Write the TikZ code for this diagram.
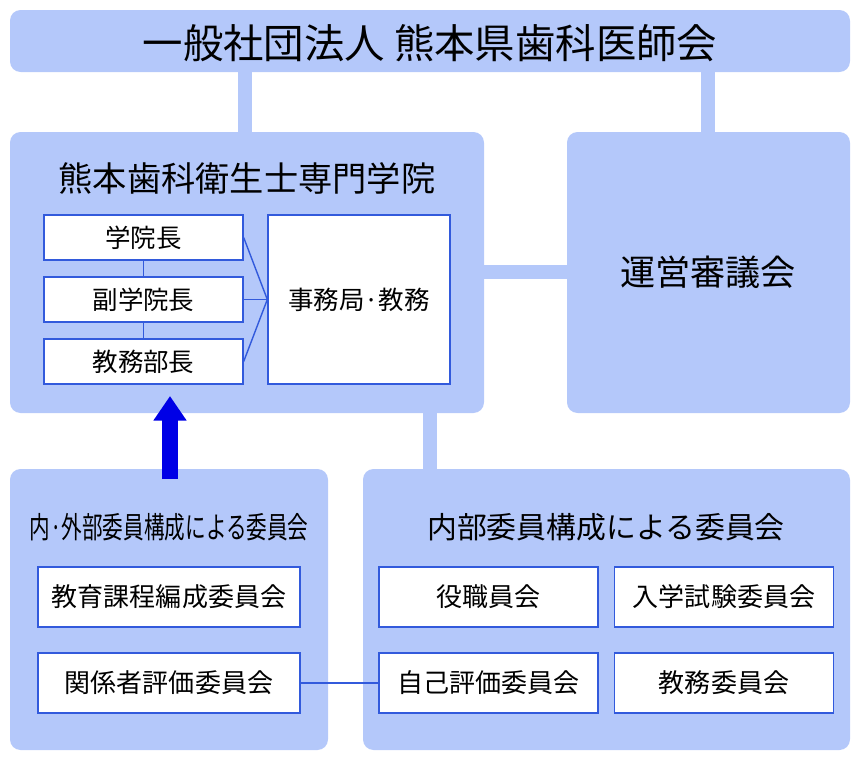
\documentclass[tikz,border=0pt]{standalone}
\usepackage{fontspec}
\setmainfont{Noto Sans CJK JP}
\usepackage{tikz}
\usetikzlibrary{arrows.meta}
\definecolor{panel}{RGB}{180,200,250}
\definecolor{edge}{RGB}{50,90,220}
\tikzset{
  panel/.style={fill=panel, rounded corners=6pt, inner sep=0pt},
  item/.style={draw=edge, fill=white, line width=0.8pt, inner sep=0pt, font=\fontsize{14.5}{16}\selectfont},
  link/.style={panel, line width=8pt},
  thin/.style={draw=edge, line width=0.8pt}
}
\begin{document}
\begin{tikzpicture}[x=0.02cm, y=-0.02cm]
\useasboundingbox (0,0) rectangle (860,762);
% connectors behind panels
\draw[link, draw=panel] (245,72) -- (245,132);
\draw[link, draw=panel] (708,72) -- (708,132);
\draw[link, draw=panel] (484,272) -- (567,272);
\draw[link, draw=panel] (430,413) -- (430,469);
% panels
\fill[panel] (10,10) rectangle (850,72);
\node (top) at (430,43) {\fontsize{23}{25}\selectfont 一般社団法人\ 熊本県歯科医師会};
\fill[panel] (10,132) rectangle (484,413);
\node (school) at (247,178) {\fontsize{19.5}{21}\selectfont 熊本歯科衛生士専門学院};
\fill[panel] (567,132) rectangle (850,413);
\node (council) at (708,272) {\fontsize{20}{22}\selectfont 運営審議会};
\fill[panel] (10,469) rectangle (328,750);
\node[xscale=0.69] (mixed) at (169,527) {\fontsize{17}{19}\selectfont 内·外部委員構成による委員会};
\fill[panel] (363,469) rectangle (850,750);
\node (inner) at (606,527) {\fontsize{17}{19}\selectfont 内部委員構成による委員会};
% school staff
\node[item, minimum width=3.98cm, minimum height=0.9cm] (head) at (143.5,237.5) {学院長};
\node[item, minimum width=3.98cm, minimum height=0.9cm] (vice) at (143.5,299.5) {副学院長};
\node[item, minimum width=3.98cm, minimum height=0.9cm] (dean) at (143.5,361.5) {教務部長};
\node[item, minimum width=3.64cm, minimum height=3.38cm] (office) at (359,299.5) {事務局·教務};
\draw[thin] (head) -- (vice);
\draw[thin] (vice) -- (dean);
\draw[thin] (head.east) -- (office.west);
\draw[thin] (vice.east) -- (office.west);
\draw[thin] (dean.east) -- (office.west);
% committees
\tikzset{cbox/.style={item, minimum width=4.38cm, minimum height=1.2cm, font=\fontsize{14.8}{16}\selectfont}}
\node[cbox, minimum width=5.24cm] (curric) at (169,597) {教育課程編成委員会};
\node[cbox, minimum width=5.24cm] (stake) at (169,683) {関係者評価委員会};
\node[cbox] (board) at (488.5,597) {役職員会};
\node[cbox] (exam) at (724,597) {入学試験委員会};
\node[cbox] (self) at (488.5,683) {自己評価委員会};
\node[cbox] (affairs) at (724,683) {教務委員会};
\draw[thin] (stake) -- (self);
% upward arrow
\coordinate (up0) at (170,479);
\coordinate (up1) at (170,396);
\draw[-{Triangle[width=18pt,length=14pt]}, line width=9pt, draw={rgb,255:red,0;green,0;blue,230}] (up0) -- (up1);
\end{tikzpicture}
\end{document}
